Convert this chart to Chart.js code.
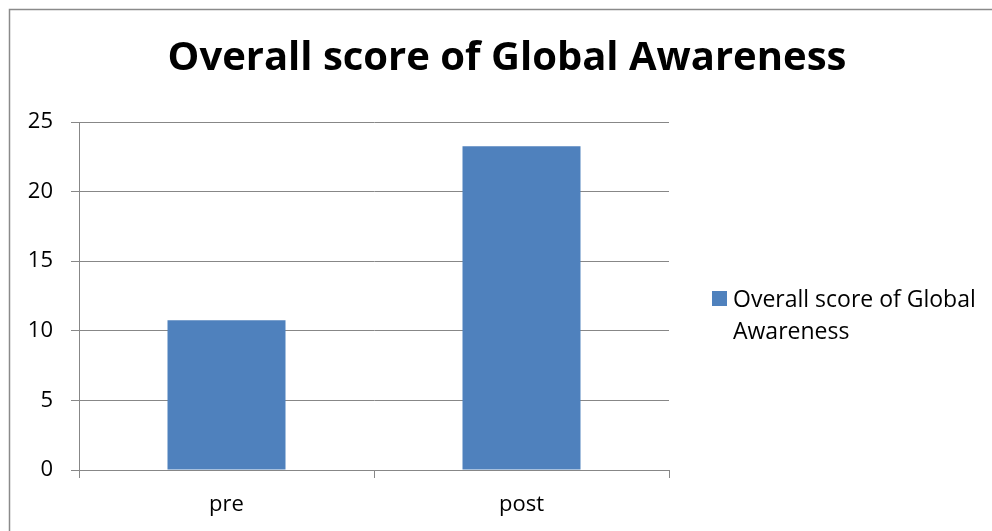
<!DOCTYPE html>
<html>
<head>
<meta charset="utf-8">
<script src="https://cdn.jsdelivr.net/npm/chart.js@4/dist/chart.umd.min.js"></script>
<style>
  html, body { margin: 0; padding: 0; background: #fff; }
  #wrap { position: relative; width: 992px; height: 531px; }
</style>
</head>
<body>
<div id="wrap"><canvas id="c" width="992" height="531"></canvas></div>
<script>
const chartTitle = "Overall score of Global Awareness";
const categories = ["pre", "post"];
const seriesName = "Overall score of Global Awareness";
const seriesLegendLines = ["Overall score of Global", "Awareness"];
const seriesValues = [10.75, 23.25];
const yTicks = [0, 5, 10, 15, 20, 25];

const FONT = "'Open Sans', Lato, sans-serif";
const BAR = "#4F81BD";
const GRID = "#878787";

// Outer frame, title and wrapped legend drawn on the canvas
const decor = {
  id: "decor",
  beforeDraw(chart) {
    const ctx = chart.ctx;
    ctx.save();
    ctx.fillStyle = "#fff";
    ctx.fillRect(0, 0, chart.width, chart.height);
    ctx.strokeStyle = "#8a8a8a";
    ctx.lineWidth = 1.5;
    ctx.beginPath();
    ctx.moveTo(9.5, chart.height + 2);
    ctx.lineTo(9.5, 9.5);
    ctx.lineTo(chart.width + 2, 9.5);
    ctx.stroke();
    ctx.restore();
  },
  afterDraw(chart) {
    const ctx = chart.ctx;
    ctx.save();
    // title
    ctx.fillStyle = "#000";
    ctx.font = "bold 40px " + FONT;
    ctx.textAlign = "center";
    ctx.textBaseline = "alphabetic";
    ctx.fillText(chartTitle, 507, 70);
    // legend
    const ds = chart.data.datasets[0];
    ctx.fillStyle = ds.backgroundColor;
    ctx.fillRect(712, 291, 15, 15);
    ctx.fillStyle = "#000";
    ctx.font = "23px " + FONT;
    ctx.textAlign = "left";
    seriesLegendLines.forEach((line, i) => ctx.fillText(line, 733, 307 + i * 32));
    ctx.restore();
  }
};

new Chart(document.getElementById("c"), {
  type: "bar",
  data: {
    labels: categories,
    datasets: [{
      label: seriesName,
      data: seriesValues,
      backgroundColor: BAR,
      borderWidth: 0,
      categoryPercentage: 1.0,
      barPercentage: 0.4
    }]
  },
  options: {
    responsive: false,
    animation: false,
    events: [],
    layout: { padding: { top: 122, right: 323, bottom: 0, left: 0 } },
    plugins: {
      legend: { display: false },
      title: { display: false },
      tooltip: { enabled: false }
    },
    scales: {
      x: {
        afterFit(scale) { scale.height = 61; },
        grid: {
          display: true,
          drawOnChartArea: false,
          drawTicks: true,
          tickLength: 8,
          color: GRID,
          lineWidth: 1
        },
        border: { display: true, color: GRID, width: 1 },
        ticks: {
          color: "#000",
          font: { family: FONT, size: 22 },
          padding: 14
        }
      },
      y: {
        min: 0,
        max: 25,
        afterFit(scale) { scale.width = 79; },
        afterBuildTicks(scale) { scale.ticks = yTicks.map(v => ({ value: v })); },
        grid: {
          color: GRID,
          lineWidth: 1,
          tickLength: 8
        },
        border: { display: true, color: GRID, width: 1 },
        ticks: {
          color: "#000",
          font: { family: FONT, size: 22 },
          padding: 18
        }
      }
    }
  },
  plugins: [decor]
});
</script>
</body>
</html>
